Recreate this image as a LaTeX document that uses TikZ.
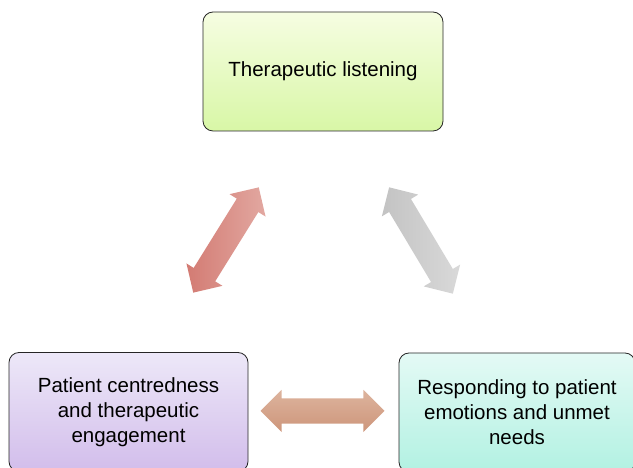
\documentclass[tikz,border=0pt]{standalone}
\usepackage{fontspec}
\setmainfont{Liberation Sans}
\usetikzlibrary{shapes.arrows}
\definecolor{greentop}{RGB}{246,253,226}
\definecolor{greenbot}{RGB}{216,247,166}
\definecolor{lilactop}{RGB}{237,232,248}
\definecolor{lilacbot}{RGB}{210,189,235}
\definecolor{mintop}{RGB}{228,250,245}
\definecolor{mintbot}{RGB}{178,241,226}
\definecolor{redlight}{RGB}{226,168,161}
\definecolor{reddark}{RGB}{211,123,115}
\definecolor{greylight}{RGB}{217,217,217}
\definecolor{greydark}{RGB}{195,195,195}
\definecolor{tanlight}{RGB}{221,180,158}
\definecolor{tandark}{RGB}{205,149,122}
\begin{document}
\begin{tikzpicture}[x=1pt, y=1pt,
  box/.style={draw=black!85, line width=0.8pt, rounded corners=10pt, rectangle,
    minimum height=119pt, align=center, inner sep=0pt,
    font=\fontsize{20.5}{25}\selectfont},
  dblarrow/.style={double arrow, draw=none, minimum height=124pt, minimum width=42pt,
    double arrow head extend=8.5pt, inner xsep=0pt, inner ysep=12.5pt}]
\useasboundingbox (0,0) rectangle (633,468);
\clip (0,0) rectangle (633,468);

% Boxes
\node[box, minimum width=240pt, top color=greentop, bottom color=greenbot] (listen) at (323,396.5) {Therapeutic listening};
\node[box, minimum width=239pt, top color=lilactop, bottom color=lilacbot] (centre) at (128.5,56) {Patient centredness\\and therapeutic\\engagement};
\node[box, minimum width=236pt, top color=mintop, bottom color=mintbot] (respond) at (517,55.5) {Responding to patient\\emotions and unmet\\needs};

% Double arrows
\node[dblarrow, rotate=58.1, left color=reddark, right color=redlight] (a1) at (226,228) {};
\node[dblarrow, rotate=120.9, left color=greydark, right color=greylight] (a2) at (421,227.5) {};
\node[dblarrow, top color=tanlight, bottom color=tandark] (a3) at (322.5,57) {};
\end{tikzpicture}
\end{document}
